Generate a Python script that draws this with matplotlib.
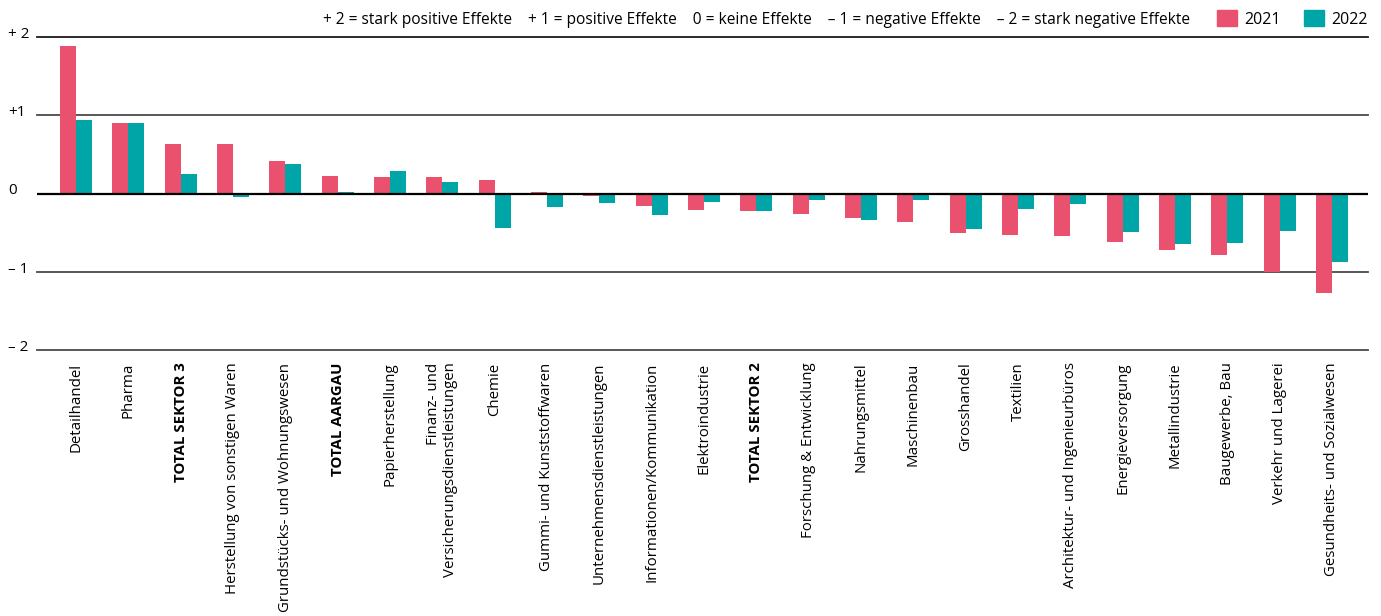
import matplotlib
matplotlib.use("Agg")
import matplotlib.pyplot as plt
from matplotlib.patches import Patch
import matplotlib.transforms as mtransforms
import numpy as np

plt.rcParams['font.family'] = ['Open Sans', 'DejaVu Sans']

categories = [
    "Detailhandel", "Pharma", "TOTAL SEKTOR 3", "Herstellung von sonstigen Waren",
    "Grundstücks- und Wohnungswesen", "TOTAL AARGAU", "Papierherstellung",
    "Finanz- und\nVersicherungsdienstleistungen", "Chemie", "Gummi- und Kunststoffwaren",
    "Unternehmensdienstleistungen", "Informationen/Kommunikation", "Elektroindustrie",
    "TOTAL SEKTOR 2", "Forschung & Entwicklung", "Nahrungsmittel", "Maschinenbau",
    "Grosshandel", "Textilien", "Architektur- und Ingenieurbüros", "Energieversorgung",
    "Metallindustrie", "Baugewerbe, Bau", "Verkehr und Lagerei",
    "Gesundheits- und Sozialwesen",
]
bold_labels = {"TOTAL SEKTOR 3", "TOTAL AARGAU", "TOTAL SEKTOR 2"}

values_2021 = [1.89, 0.90, 0.63, 0.63, 0.42, 0.22, 0.21, 0.21, 0.17, 0.02,
               -0.03, -0.16, -0.21, -0.22, -0.26, -0.31, -0.36, -0.50, -0.53,
               -0.54, -0.62, -0.72, -0.79, -1.00, -1.27]
values_2022 = [0.94, 0.90, 0.25, -0.04, 0.38, 0.02, 0.29, 0.15, -0.44, -0.17,
               -0.12, -0.27, -0.11, -0.22, -0.08, -0.34, -0.08, -0.45, -0.20,
               -0.13, -0.49, -0.64, -0.63, -0.48, -0.87]

ytick_values = [2, 1, 0, -1, -2]
ytick_labels = ["+ 2", "+1", "0", "\u2013 1", "\u2013 2"]
series_labels = ["2021", "2022"]
scale_text = ("+ 2 = stark positive Effekte    + 1 = positive Effekte    "
              "0 = keine Effekte    \u2013 1 = negative Effekte    "
              "\u2013 2 = stark negative Effekte")

PINK = "#E9516F"
TEAL = "#00A5A8"

W, H = 1381, 616
fig = plt.figure(figsize=(W / 100, H / 100), dpi=100)
ax = fig.add_axes([37 / W, 1 - 350 / H, (1368 - 37) / W, (350 - 37) / H])

x = np.arange(len(categories))
bw = 0.306
ax.bar(x - bw / 2, values_2021, width=bw, color=PINK, zorder=2)
ax.bar(x + bw / 2, values_2022, width=bw, color=TEAL, zorder=2)

ax.set_xlim(-0.745, len(categories) - 1 + 0.69)
ax.set_ylim(-2, 2)

for v in ytick_values:
    if v == 0:
        ax.axhline(v, color="black", lw=1.6, zorder=3)
    elif v == 2:
        ax.axhline(v, color="#1a1a1a", lw=1.3, zorder=1, clip_on=False)
    else:
        ax.axhline(v, color="#4a4a4a", lw=1.3, zorder=1, clip_on=False)

for s in ax.spines.values():
    s.set_visible(False)
ax.set_yticks([])
ax.set_xticks(x)
ax.set_xticklabels(categories, rotation=90, fontsize=10.8, ha="center", va="top",
                   multialignment="right", linespacing=1.15)
for lbl in ax.get_xticklabels():
    if lbl.get_text() in bold_labels:
        lbl.set_fontweight("bold")
ax.tick_params(axis="x", length=0, pad=9)

trans = mtransforms.blended_transform_factory(fig.transFigure, ax.transData)
offset = mtransforms.ScaledTranslation(0, 2.5 / 100, fig.dpi_scale_trans)
for v, t in zip(ytick_values, ytick_labels):
    fig.text(8 / W, v, t, transform=trans + offset, fontsize=11,
             ha="left", va="center")

fig.text(1190 / W, 1 - 20 / H, scale_text, fontsize=11.2, ha="right", va="center")

handles = [Patch(color=PINK), Patch(color=TEAL)]
fig.legend(handles, series_labels, loc="center right",
           bbox_to_anchor=(1368 / W, 1 - 19 / H), ncol=2, frameon=False,
           fontsize=11.5, handlelength=1.25, handleheight=1.15,
           handletextpad=0.45, columnspacing=1.5, borderpad=0, borderaxespad=0)

fig.savefig("out.png", dpi=100)
